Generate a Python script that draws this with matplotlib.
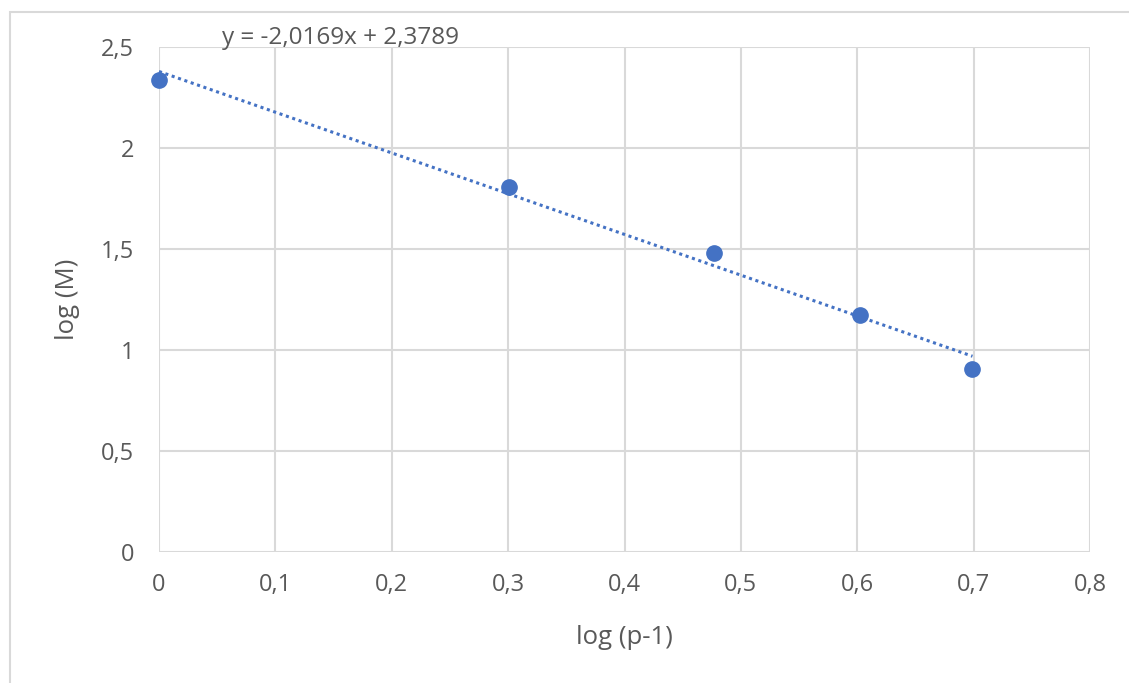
import matplotlib
matplotlib.use("Agg")
import matplotlib.pyplot as plt
from matplotlib.ticker import FuncFormatter
from matplotlib.patches import Rectangle
import numpy as np

plt.rcParams['font.family'] = ['Open Sans', 'DejaVu Sans']

# Data
x_vals = [0.0, 0.301, 0.477, 0.602, 0.699]
y_vals = [2.335, 1.805, 1.478, 1.175, 0.905]
slope = -2.0169
intercept = 2.3789
equation = "y = -2,0169x + 2,3789"
x_ticks = [0, 0.1, 0.2, 0.3, 0.4, 0.5, 0.6, 0.7, 0.8]
y_ticks = [0, 0.5, 1, 1.5, 2, 2.5]

blue = '#4472C4'
text_gray = '#595959'
grid_gray = '#d9d9d9'

fig = plt.figure(figsize=(11.29, 6.83), dpi=100)
fig.patch.set_facecolor('white')
# outer chart border
fig.patches.append(Rectangle((10/1129, -0.01), 1.2, 1 - 12/683 + 0.01,
                             transform=fig.transFigure, fill=False,
                             edgecolor='#d9d9d9', linewidth=1.5))

ax = fig.add_axes([159/1129, 1 - 552/683, (1090 - 159)/1129, (552 - 47)/683])
ax.set_xlim(0, 0.8)
ax.set_ylim(0, 2.5)
ax.set_xticks(x_ticks)
ax.set_yticks(y_ticks)

def comma_fmt(v, pos):
    s = ('%g' % round(v, 2))
    return s.replace('.', ',')

ax.xaxis.set_major_formatter(FuncFormatter(comma_fmt))
ax.yaxis.set_major_formatter(FuncFormatter(comma_fmt))

for s in ax.spines.values():
    s.set_visible(False)
ax.grid(True, color=grid_gray, linewidth=1.5, zorder=0)
ax.set_axisbelow(True)
ax.tick_params(axis='both', length=0, labelsize=17, labelcolor=text_gray)
ax.tick_params(axis='x', pad=15)
ax.tick_params(axis='y', pad=18)

# trendline
tx = np.array([x_vals[0], x_vals[-1]])
ax.plot(tx, slope * tx + intercept, linestyle=(0, (1, 1.2)), color=blue,
        linewidth=2.2, zorder=2, clip_on=False)
ax.plot(x_vals, y_vals, 'o', color=blue, markersize=11, zorder=3, clip_on=False)

ax.set_xlabel('log (p-1)', fontsize=18.5, color=text_gray, labelpad=20)
ax.set_ylabel('log (M)', fontsize=18.5, color=text_gray, labelpad=15)

fig.text(341/1129, 1 - 38/683, equation, fontsize=17.5, color=text_gray,
         ha='center', va='center')

fig.savefig('out.png', dpi=100)
